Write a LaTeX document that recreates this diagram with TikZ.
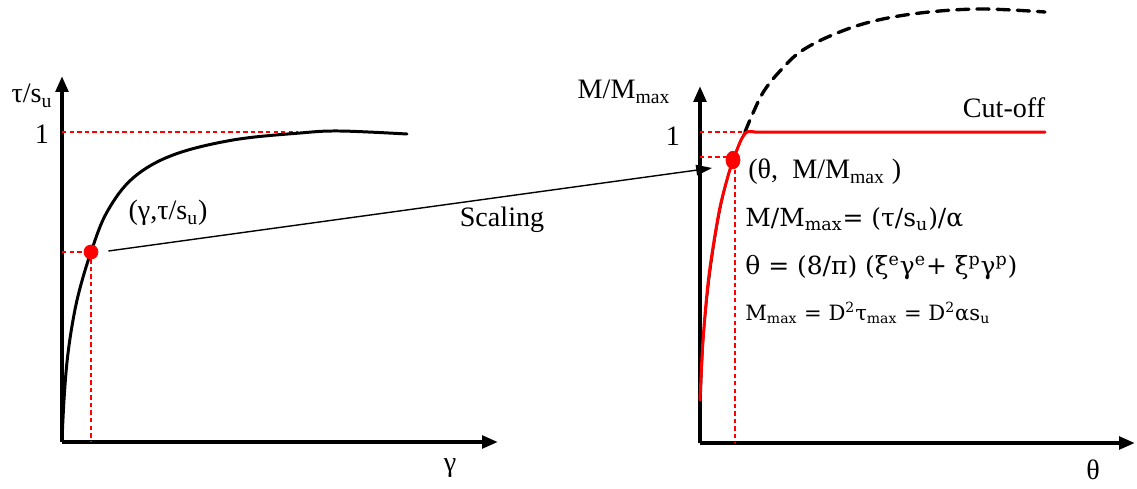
\documentclass[tikz,border=0pt]{standalone}
\usepackage{fontspec}
\setmainfont{Liberation Serif}
\newfontfamily\eqfont{DejaVu Serif}
\usetikzlibrary{arrows.meta,positioning,shapes.geometric}

\tikzset{
  axis/.style={line width=2.3pt,-{Triangle[length=9pt,width=7pt]}},
  guide/.style={red,line width=0.6pt,dash pattern=on 2.5pt off 1.8pt},
  curve/.style={line width=1.7pt,line cap=round},
  lbl/.style={font=\fontsize{16}{18}\selectfont,inner sep=0pt},
  eqn/.style={font=\eqfont\fontsize{14.2}{16}\selectfont,inner sep=0pt,anchor=west},
  dot/.style={circle,fill=red,draw=red,inner sep=0pt,minimum size=6pt}
}

\begin{document}
\begin{tikzpicture}[x=0.02cm,y=-0.02cm]
  \useasboundingbox (0,0) rectangle (1137,488);
  % Left plot: stress-strain
  \coordinate (lo) at (62,442);
  \draw[axis] (lo) -- (62,76);
  \draw[axis] (lo) -- (498,442);
  \node[lbl] (tsu) at (32,96) {τ/s\textsubscript{u}};
  \node[lbl] (lone) at (42,134) {1};
  \node[lbl] (lgam) at (450,468) {γ};
  \draw[guide] (62,132) -- (298,132);
  \draw[curve] plot[smooth,tension=0.6] coordinates {(62,440) (64,400) (67,362) (72,326) (79,292) (91,252) (107,212) (133,178) (173,155) (233,140) (300,133) (340,131) (407,134)};
  \node[dot,minimum size=8pt] (ldot) at (91,252) {};
  \draw[guide] (62,252) -- (ldot.west);
  \draw[guide] (ldot.south) -- (91,442);
  \node[lbl] (lpt) at (168,213) {(γ,τ/s\textsubscript{u})};
  % Right plot: moment-rotation
  \coordinate (ro) at (700,443);
  \draw[axis] (ro) -- (700,86);
  \draw[axis] (ro) -- (1135,443);
  \node[lbl] (mm) at (624,92) {M/M\textsubscript{max}};
  \node[lbl] (rone) at (673,136) {1};
  \node[lbl] (rth) at (1093,470) {θ};
  \node[lbl] (cut) at (1004,108) {Cut-off};
  \draw[guide] (700,132) -- (745,132);
  \draw[guide] (700,157) -- (733,157);
  \draw[guide] (735,162) -- (735,443);
  \draw[line width=1.2pt] plot[smooth,tension=0.6] coordinates {(700,440) (701,390) (704,330) (711,265) (721,205) (733,160) (745,132)};
  \draw[curve,line width=1.9pt,dash pattern=on 7pt off 4.5pt] plot[smooth,tension=0.6] coordinates {(745,132) (753,113) (764,91) (780,71) (800,52) (830,36) (870,22) (920,13) (980,9) (1045,12)};
  \draw[curve,red] plot[smooth,tension=0.5] coordinates {(700,400) (703,340) (709,275) (719,212) (728,176) (734,158) (741,140) (747,132) (755,132)} -- (1045,132);
  \node[dot,ellipse,minimum width=8pt,minimum height=10pt] (rdot) at (733,160) {};
  \node[lbl,anchor=west] (rpt) at (748,172) {(θ,\ \ M/M\textsubscript{max} )};
  \node[eqn] (eqa) at (745,219) {M/M\textsubscript{max}= (τ/s\textsubscript{u})/α};
  \node[eqn] (eqb) at (745,268) {θ = (8/π) (ξ\textsuperscript{e}γ\textsuperscript{e}+ ξ\textsuperscript{p}γ\textsuperscript{p})};
  \node[eqn,font=\eqfont\fontsize{12}{14}\selectfont] (eqc) at (745,313) {M\textsubscript{max} = D\textsuperscript{2}τ\textsubscript{max} = D\textsuperscript{2}αs\textsubscript{u}};
  % Scaling arrow
  \coordinate (rtip) at (712,168);
  \draw[line width=0.8pt,-{Triangle[length=9pt,width=6pt]}] (ldot.east) ++(10,-1) -- (rtip);
  \node[lbl] (scl) at (502,220) {Scaling};
\end{tikzpicture}
\end{document}
